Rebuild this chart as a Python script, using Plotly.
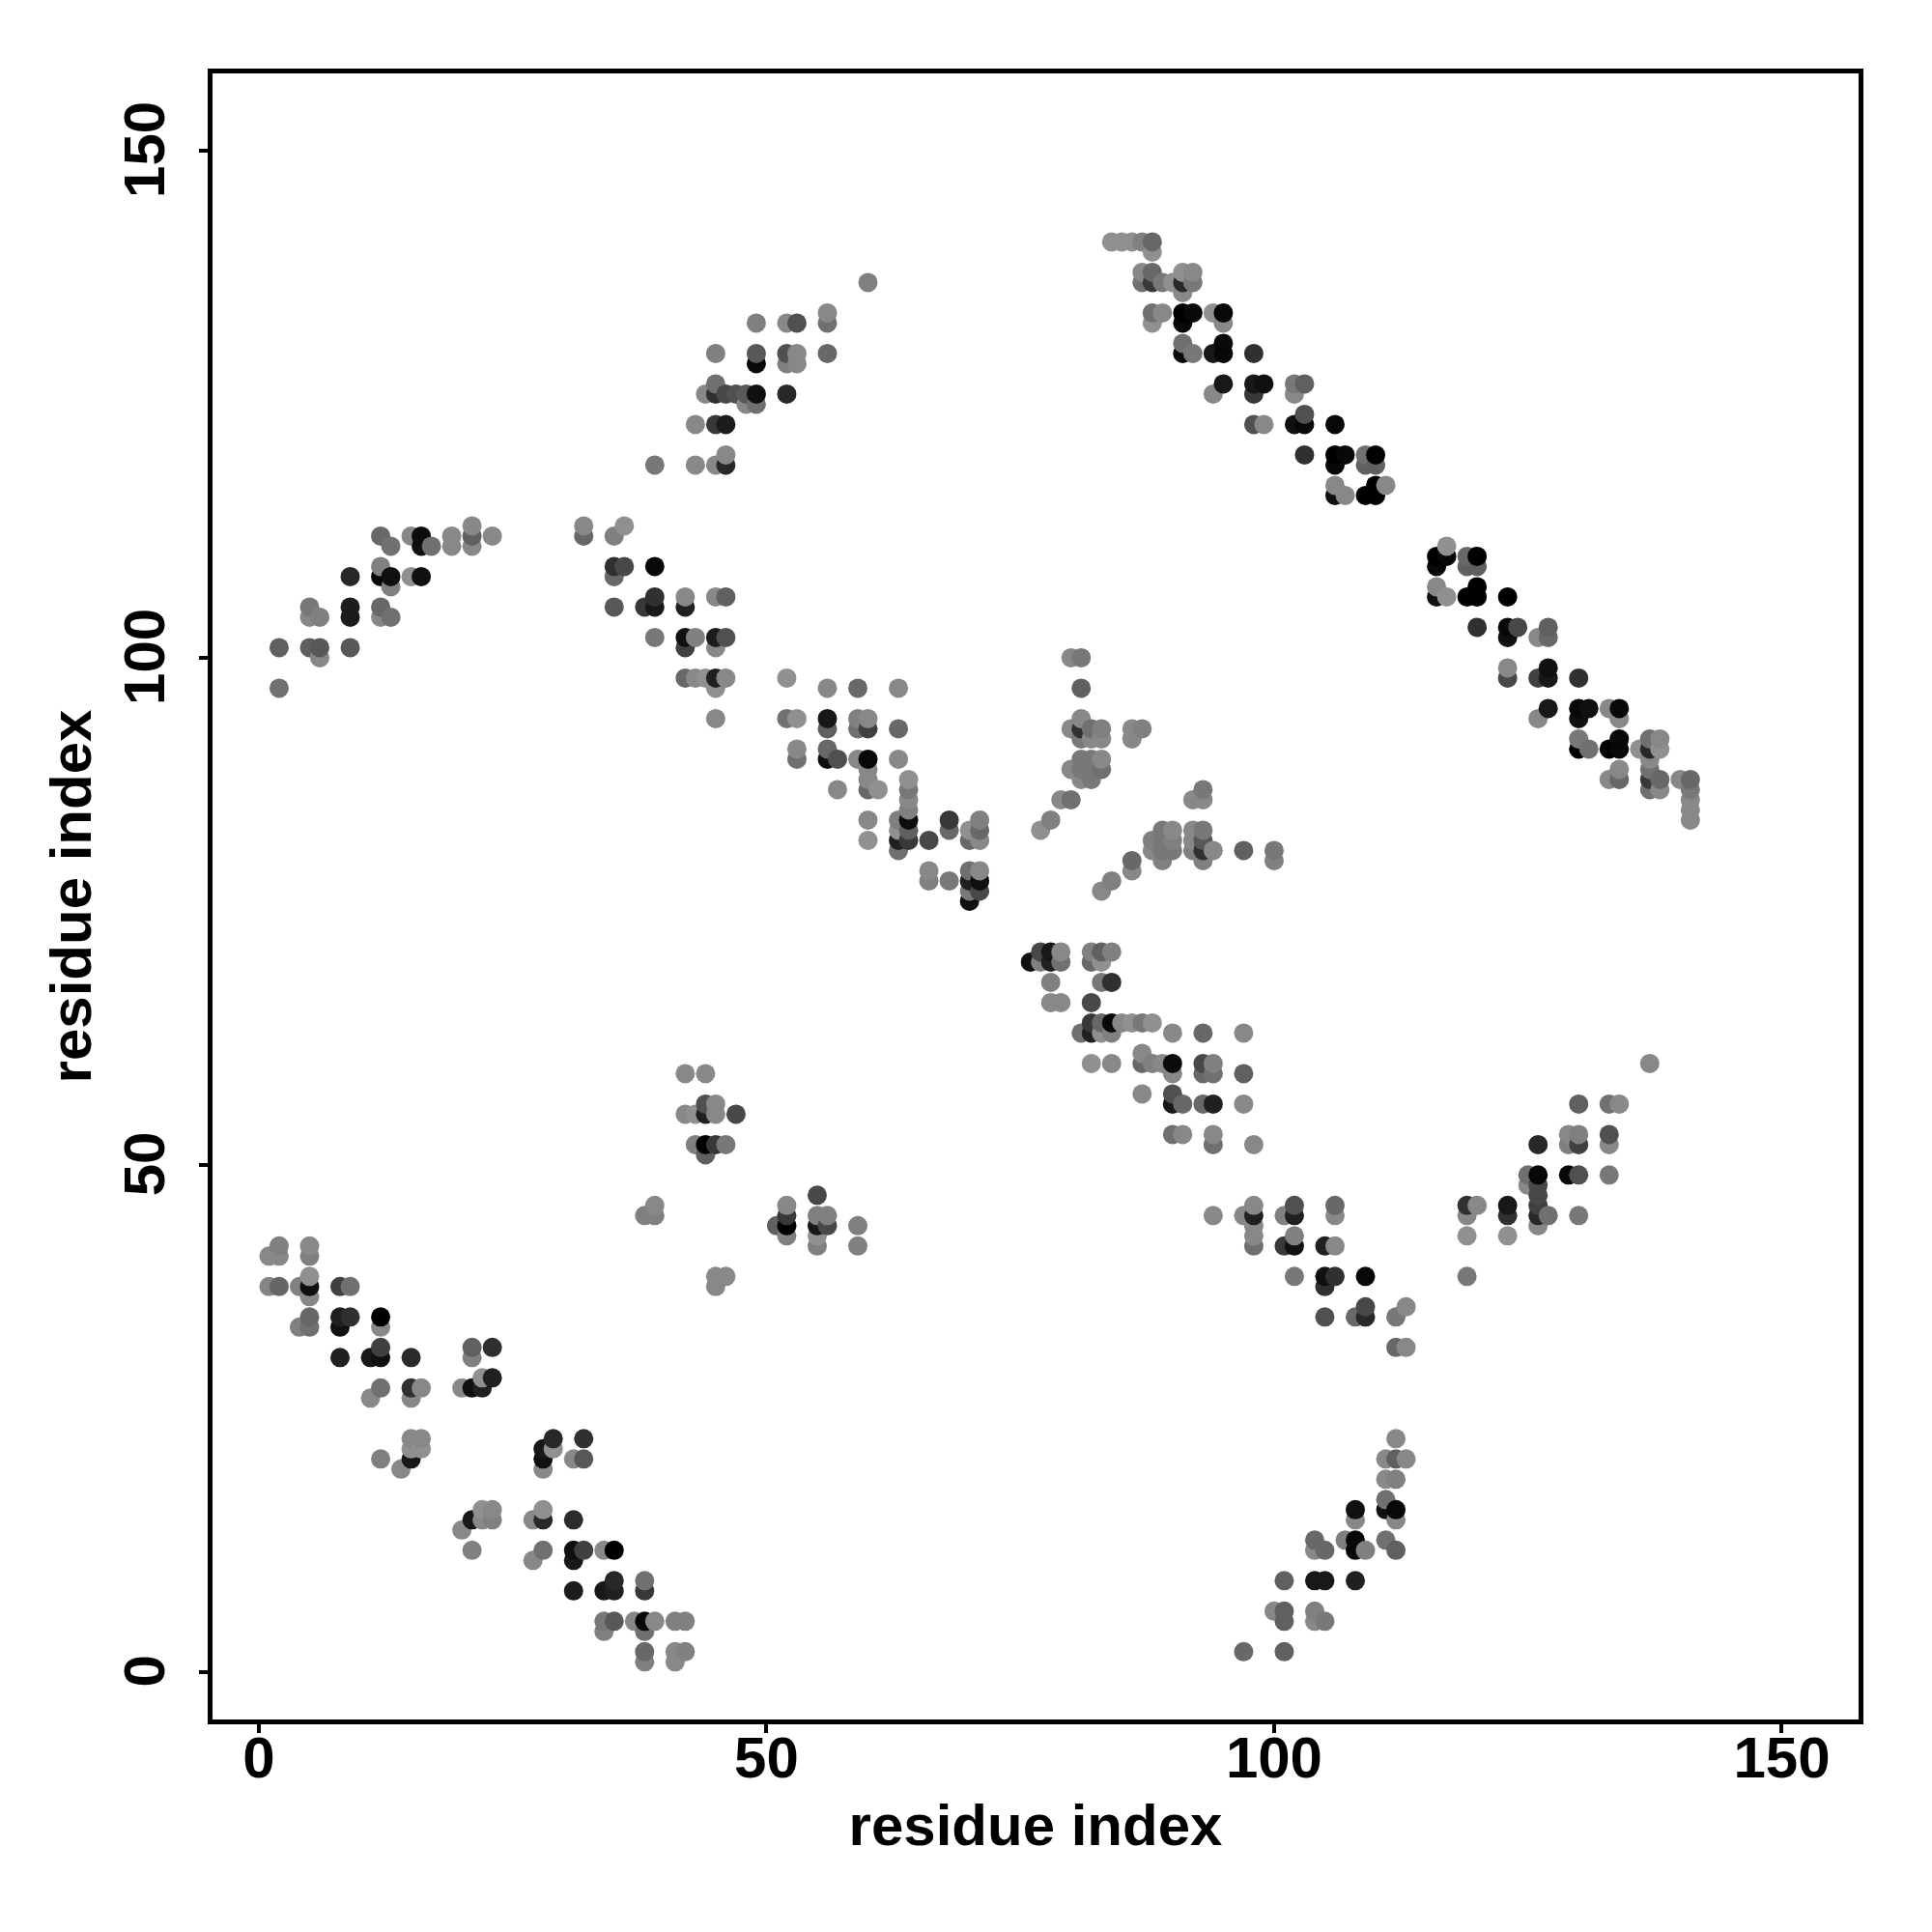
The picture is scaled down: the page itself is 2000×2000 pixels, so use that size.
import plotly.graph_objects as go

# each entry: (residue x, residue y, gray level)
block_low_left = [
(2,42,0x80),(5,42,0x88),(1,41,0x88),(2,41,0x88),(5,41,0x80),(5,39,0x90),
(1,38,0x85),(2,38,0x66),(4,38,0x80),(5,38,0x10),(8,38,0x40),(9,38,0x70),(5,37,0x88),
(5,35,0x68),(8,35,0x20),(9,35,0x30),(12,35,0x00),(4,34,0x80),(5,34,0x70),(8,34,0x10),(12,34,0x88),
(12,32,0x40),(21,32,0x60),(23,32,0x30),(8,31,0x20),(11,31,0x18),(12,31,0x10),(15,31,0x2a),(21,31,0x80),
(22,29,0x90),(23,29,0x20),(12,28,0x70),(15,28,0x30),(16,28,0x88),(20,28,0x88),(21,28,0x10),(22,28,0x20),
(11,27,0x88),(15,27,0x88),(15,23,0x88),(16,23,0x88),(29,23,0x28),(32,23,0x30),
(15,22,0x90),(16,22,0x90),(28,22,0x18),(29,22,0x90),(12,21,0x80),(15,21,0x18),(28,21,0x10),(31,21,0x88),(32,21,0x58),
(14,20,0x88),(28,20,0x88),(22,16,0x90),(23,16,0x88),(28,16,0x90),
(21,15,0x18),(22,15,0x88),(23,15,0x80),(27,15,0x88),(28,15,0x28),(31,15,0x2c),(20,14,0x88),
(21,12,0x80),(28,12,0x70),(31,12,0x10),(32,12,0x40),(34,12,0x88),(35,12,0x00),(27,11,0x88),(31,11,0x18),
(35,9,0x28),(38,9,0x70),(31,8,0x1c),(34,8,0x18),(35,8,0x20),(38,8,0x38),
(34,5,0x78),(35,5,0x58),(37,5,0x88),(38,5,0x08),(39,5,0x88),(41,5,0x80),(42,5,0x80),(34,4,0x80),(38,4,0x70),
(38,2,0x68),(41,2,0x88),(42,2,0x80),(38,1,0x80),(41,1,0x88),
]
block_mid_left = [
(42,59,0x88),(44,59,0x88),(44,56,0x50),(45,56,0x88),(42,55,0x88),(43,55,0x90),(44,55,0x20),(45,55,0x88),(47,55,0x48),
(43,52,0x80),(44,52,0x00),(45,52,0x38),(46,52,0x78),(44,51,0x60),(39,46,0x88),(38,45,0x80),(39,45,0x80),
(51,44,0x60),(52,46,0x88),(52,45,0x38),(52,44,0x00),(52,43,0x80),(55,47,0x48),(55,45,0x80),(55,44,0x18),(55,43,0x90),(55,42,0x80),
(56,45,0x80),(56,44,0x48),(59,44,0x80),(59,42,0x80),(45,39,0x88),(46,39,0x88),(45,38,0x88),
]
block_centre_low = [
(77,71,0x48),(78,71,0x18),(79,71,0x88),(82,71,0x80),(83,71,0x60),(84,71,0x80),
(76,70,0x10),(77,70,0x80),(78,70,0x20),(79,70,0x70),(82,70,0x68),(83,70,0x90),
(78,68,0x80),(83,68,0x78),(84,68,0x30),(78,66,0x88),(79,66,0x88),(82,66,0x48),
(82,64,0x38),(83,64,0x68),(84,64,0x08),(85,64,0x88),(86,64,0x90),(87,64,0x78),(88,64,0x90),
(81,63,0x70),(82,63,0x20),(83,63,0x90),(84,63,0x80),(90,63,0x88),(93,63,0x68),(97,63,0x88),
(87,61,0x88),(82,60,0x90),(84,60,0x88),(87,60,0x68),(88,60,0x80),(89,60,0x88),(90,60,0x0c),(93,60,0x48),(94,60,0x80),
(90,59,0x88),(93,59,0x68),(94,59,0x70),(97,59,0x60),(87,57,0x88),(90,57,0x50),
(90,56,0x18),(91,56,0x68),(93,56,0x68),(94,56,0x20),(97,56,0x88),(90,53,0x70),(91,53,0x88),(94,53,0x88),(94,52,0x70),(98,52,0x88),
]
block_low_right = [
(137,60,0x88),(130,56,0x60),(133,56,0x70),(134,56,0x88),(129,53,0x88),(130,53,0x80),(133,53,0x50),
(126,52,0x28),(129,52,0x80),(130,52,0x40),(133,52,0x88),(125,49,0x70),(126,49,0x08),(129,49,0x08),(130,49,0x50),(133,49,0x78),
(125,48,0x88),(126,48,0x48),(126,47,0x48),(119,46,0x30),(120,46,0x88),(123,46,0x18),(126,46,0x40),(98,46,0x88),(102,46,0x50),(106,46,0x68),
(94,45,0x88),(97,45,0x88),(98,45,0x20),(101,45,0x80),(102,45,0x20),(106,45,0x88),(119,45,0x88),(123,45,0x30),(126,45,0x28),(127,45,0x70),(130,45,0x78),
(98,44,0x88),(126,44,0x88),(98,43,0x88),(102,43,0x80),(119,43,0x90),(123,43,0x90),(98,42,0x70),(101,42,0x38),(102,42,0x10),(105,42,0x20),(106,42,0x88),
(102,39,0x78),(105,39,0x10),(106,39,0x30),(109,39,0x08),(119,39,0x78),(105,38,0x30),(109,36,0x48),(113,36,0x88),
(105,35,0x50),(108,35,0x68),(109,35,0x28),(112,35,0x78),(112,32,0x68),(113,32,0x88),
(112,23,0x88),(111,21,0x88),(112,21,0x60),(113,21,0x88),(111,19,0x88),(112,19,0x80),(111,17,0x70),(108,16,0x10),(111,16,0x10),(112,16,0x08),(108,15,0x88),(112,15,0x88),
(104,13,0x68),(107,13,0x80),(108,13,0x08),(111,13,0x70),(104,12,0x88),(105,12,0x68),(108,12,0x08),(109,12,0x80),(112,12,0x60),
(101,9,0x60),(104,9,0x18),(105,9,0x18),(108,9,0x20),(100,6,0x88),(101,6,0x60),(104,6,0x80),(101,5,0x60),(104,5,0x88),(105,5,0x78),(97,2,0x68),(101,2,0x60),
]
block_up_left = [
(21,113,0x88),(32,113,0x88),(36,113,0x90),(12,112,0x68),(15,112,0x88),(16,112,0x0c),(19,112,0x88),(21,112,0x60),(23,112,0x88),(32,112,0x68),(35,112,0x80),
(13,111,0x70),(16,111,0x10),(17,111,0x70),(19,111,0x88),(21,111,0x88),(12,109,0x80),(35,109,0x30),(36,109,0x48),(39,109,0x08),
(9,108,0x28),(12,108,0x08),(13,108,0x10),(15,108,0x90),(16,108,0x10),(35,108,0x68),(13,107,0x80),
(5,105,0x78),(5,104,0x88),(6,104,0x80),(9,105,0x1c),(9,104,0x1c),(12,105,0x68),(12,104,0x88),(13,104,0x70),
(35,105,0x58),(38,105,0x38),(39,106,0x30),(39,105,0x18),(42,106,0x88),(42,105,0x20),(45,106,0x88),(46,106,0x60),
(39,102,0x78),(42,102,0x10),(43,102,0x80),(45,102,0x1c),(46,102,0x50),(42,101,0x40),(45,101,0x88),
(2,101,0x60),(5,101,0x60),(6,101,0x58),(6,100,0x88),(9,101,0x58),
(42,98,0x68),(43,98,0x88),(44,98,0x90),(45,98,0x20),(46,98,0x88),(45,97,0x90),(2,97,0x70),(45,94,0x88),
]
block_centre_up = [
(52,98,0x90),(56,97,0x88),(59,97,0x68),(63,97,0x88),(52,94,0x70),(53,94,0x90),(56,94,0x18),(59,94,0x80),(60,94,0x88),
(56,93,0x60),(59,93,0x70),(60,93,0x40),(63,93,0x68),(53,91,0x88),(56,91,0x68),(53,90,0x70),(56,90,0x10),(57,90,0x50),(59,90,0x88),(60,90,0x08),(63,90,0x88),
(60,89,0x88),(60,88,0x88),(64,88,0x90),(57,87,0x88),(60,87,0x68),(61,87,0x90),(64,87,0x78),(64,86,0x88),(64,85,0x80),
(60,84,0x88),(63,84,0x80),(64,84,0x0c),(68,84,0x38),(71,84,0x80),(63,83,0x90),(64,83,0x60),(68,83,0x68),(70,83,0x90),(71,83,0x68),
(60,82,0x90),(63,82,0x20),(64,82,0x38),(66,82,0x48),(70,82,0x68),(71,82,0x88),(63,81,0x70),
(66,79,0x88),(70,79,0x70),(71,79,0x88),(66,78,0x80),(68,78,0x78),(70,78,0x20),(71,78,0x10),(70,77,0x78),(71,77,0x48),(70,76,0x10),
(77,83,0x90),(78,84,0x80),(79,86,0x88),
(80,100,0x88),(81,100,0x78),(81,97,0x60),(81,94,0x88),(80,93,0x88),(81,93,0x30),(82,93,0x70),(83,93,0x80),(86,93,0x88),(87,93,0x80),
(81,92,0x78),(82,92,0x88),(83,92,0x88),(86,92,0x88),(81,90,0x78),(82,90,0x78),(83,90,0x88),(80,89,0x88),(81,89,0x78),(82,89,0x78),(83,89,0x70),(81,88,0x88),(82,88,0x78),
(93,87,0x78),(80,86,0x70),(92,86,0x88),(93,86,0x88),(89,83,0x78),(90,83,0x88),(92,83,0x88),(93,83,0x78),
(88,82,0x80),(89,82,0x78),(90,82,0x80),(92,82,0x88),(93,82,0x58),(88,81,0x88),(89,81,0x78),(90,81,0x78),(92,81,0x80),(93,81,0x30),(94,81,0x88),(97,81,0x60),(100,81,0x78),
(89,80,0x80),(93,80,0x80),(100,80,0x80),(86,80,0x68),(86,79,0x88),(84,78,0x80),(83,77,0x88),
]
block_top_mid = [
(60,137,0x80),(56,134,0x88),(56,133,0x70),(49,133,0x80),(52,133,0x88),(53,133,0x50),(45,130,0x80),(49,130,0x58),(52,130,0x50),(53,130,0x88),(56,130,0x68),
(49,129,0x08),(52,129,0x80),(53,129,0x88),(45,127,0x70),(44,126,0x88),(45,126,0x30),(46,126,0x48),(47,126,0x50),(48,126,0x58),(49,126,0x10),(52,126,0x28),
(48,125,0x88),(49,125,0x70),(43,123,0x88),(45,123,0x38),(46,123,0x1c),(46,120,0x88),(39,119,0x78),(43,119,0x88),(45,119,0x88),(46,119,0x28),
]
block_top_right = [
(84,141,0x90),(85,141,0x90),(86,141,0x90),(87,141,0x80),(88,141,0x68),(88,140,0x90),(87,138,0x88),(88,138,0x68),(91,138,0x90),(92,138,0x88),
(87,137,0x70),(88,137,0x38),(89,137,0x78),(90,137,0x90),(91,137,0x28),(92,137,0x78),(91,136,0x88),
(88,134,0x70),(89,134,0x88),(91,134,0x00),(92,134,0x08),(94,134,0x90),(95,134,0x08),(88,133,0x90),(91,133,0x08),(95,133,0x88),
(91,131,0x70),(95,131,0x08),(91,130,0x08),(92,130,0x78),(94,130,0x18),(95,130,0x08),(98,130,0x30),
(95,127,0x18),(98,127,0x18),(99,127,0x10),(102,127,0x78),(103,127,0x60),(94,126,0x88),(98,126,0x38),(102,126,0x88),
(103,124,0x50),(98,123,0x50),(99,123,0x88),(102,123,0x10),(103,123,0x08),(106,123,0x08),
(103,120,0x30),(106,120,0x00),(107,120,0x08),(109,120,0x70),(110,120,0x00),(106,119,0x08),(109,119,0x60),(110,119,0x60),
(106,117,0x88),(110,117,0x00),(111,117,0x88),(106,116,0x10),(107,116,0x88),(109,116,0x00),(110,116,0x00),
]
block_right = [
(117,111,0x90),(116,110,0x00),(117,110,0x08),(119,110,0x68),(120,110,0x00),(116,109,0x08),(119,109,0x60),(120,109,0x60),
(116,107,0x88),(120,107,0x00),(116,106,0x10),(117,106,0x90),(119,106,0x00),(120,106,0x00),(123,106,0x00),
(120,103,0x30),(123,103,0x08),(124,103,0x48),(127,103,0x60),(123,102,0x10),(126,102,0x88),(127,102,0x68),
(123,99,0x88),(127,99,0x10),(123,98,0x48),(126,98,0x40),(127,98,0x18),(130,98,0x30),
(127,95,0x18),(130,95,0x08),(131,95,0x10),(133,95,0x88),(134,95,0x08),(126,94,0x88),(130,94,0x10),(134,94,0x88),
(130,92,0x78),(134,92,0x08),(137,92,0x70),(138,92,0x88),(130,91,0x00),(131,91,0x70),(133,91,0x00),(134,91,0x08),(136,91,0x90),(137,91,0x28),(138,91,0x90),
(137,90,0x88),(134,89,0x88),(137,89,0x70),(133,88,0x88),(134,88,0x68),(137,88,0x38),(138,88,0x68),(140,88,0x88),(141,88,0x68),
(137,87,0x70),(138,87,0x88),(141,87,0x78),(141,86,0x88),(141,85,0x88),(141,84,0x88),
]

tick_values = [0, 50, 100, 150]
axis_title = "residue index"

points = sorted(block_low_left + block_mid_left + block_centre_low + block_low_right
                + block_up_left + block_centre_up + block_top_mid + block_top_right + block_right,
                key=lambda p: (p[0], p[1]))

fig = go.Figure(go.Scatter(
    x=[p[0] for p in points],
    y=[p[1] for p in points],
    mode="markers",
    marker=dict(size=20, color=[f"rgb({p[2]},{p[2]},{p[2]})" for p in points], line=dict(width=0)),
    hoverinfo="skip",
))

font = dict(family="Liberation Sans", size=60, color="black", weight="bold")
axis_common = dict(
    tickvals=tick_values, ticks="outside", ticklen=9, tickwidth=4, tickcolor="black",
    showline=True, linewidth=5, linecolor="black", mirror=True, showgrid=False, zeroline=False,
    tickfont=font, automargin=False,
)
fig.update_xaxes(range=[-4.56, 157.57], ticklabelstandoff=-26, title=dict(text=axis_title, font=font, standoff=17), **axis_common)
fig.update_yaxes(range=[-4.68, 157.61], ticklabelstandoff=12, ticklabelshift=8, tickangle=-90,
                 title=dict(text=axis_title, font=font, standoff=4), **axis_common)
fig.update_layout(
    width=1984, height=1984, showlegend=False,
    margin=dict(l=212, r=68, t=68, b=212),
    paper_bgcolor="white", plot_bgcolor="white",
)
fig.write_html("out.html", config=dict(displayModeBar=False))
